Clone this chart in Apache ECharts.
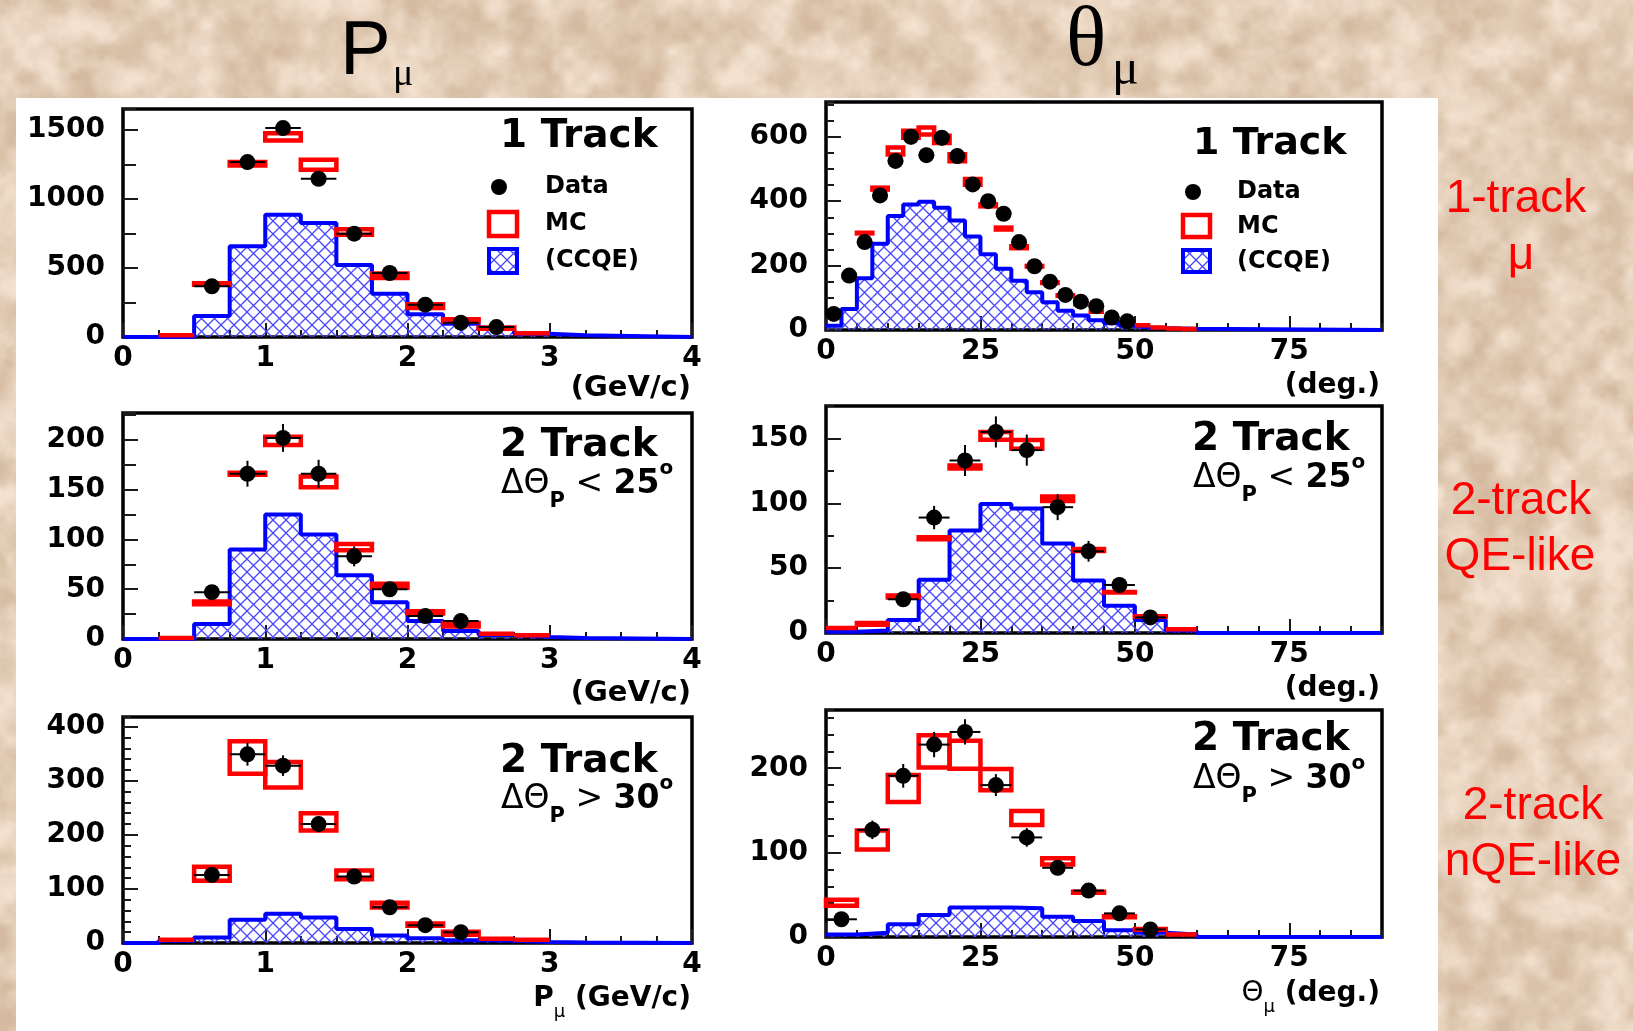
<!DOCTYPE html>
<html>
<head>
<meta charset="utf-8">
<script src="https://cdn.jsdelivr.net/npm/echarts@6/dist/echarts.min.js"></script>
<style>
  html, body { margin: 0; padding: 0; }
  #stage { position: relative; width: 1633px; height: 1031px; overflow: hidden; }
  #stone { position: absolute; left: 0; top: 0; width: 1633px; height: 1031px; }
  #sheet { position: absolute; left: 16px; top: 98px; width: 1422px; height: 933px; background: #fff; }
  #chart { position: absolute; left: 0; top: 0; width: 1633px; height: 1031px; }
</style>
</head>
<body>
<div id="stage">
  <canvas id="stone" width="817" height="516"></canvas>
  <div id="sheet"></div>
  <div id="chart"></div>
</div>
<script>
// ---------------- bin widths ----------------
const pBin = 0.25;    // muon momentum bins, GeV/c
const thBin1 = 2.5;   // muon angle bins, 1-track sample (deg)
const thBin2 = 5;     // muon angle bins, 2-track samples (deg)

// ---------------- P_mu, 1 track ----------------
const pOneCCQE    = [0, 0, 152, 656, 885, 825, 521, 313, 164, 96, 58, 24, 12];
const pOneMC      = [null, 12, 384, 1254, 1448, 1246, 760, 443, 223, 121, 64, 28];
const pOneMCErr   = [0, 0, 5, 13, 26, 36, 20, 16, 14, 8, 4, 0];
const pOneData    = [null, null, 367, 1266, 1512, 1145, 748, 463, 234, 104, 72];
const pOneDataErr = [0, 0, 19, 36, 39, 34, 27, 22, 15, 10, 8];

// ---------------- P_mu, 2 track, dTheta_p < 25 ----------------
const pQECCQE    = [0, 0, 15, 90, 125, 105, 64, 37, 18, 8, 4, 2, 1];
const pQEMC      = [null, 1, 36.3, 166, 199, 157.7, 92.3, 53.5, 26.7, 14.3, 5.3, 3.8];
const pQEMCErr   = [0, 0, 1.4, 1.1, 4.1, 5.4, 3.1, 1.9, 1.1, 1.8, 0, 0];
const pQEData    = [null, null, 47, 166, 202, 166, 83, 50, 23, 18];
const pQEDataErr = [0, 0, 7, 13, 14, 14, 10, 7, 5, 4];

// ---------------- P_mu, 2 track, dTheta_p > 30 ----------------
const pNQECCQE    = [0, 4, 10, 43, 54, 47, 26, 14, 9, 5, 4, 2, 1];
const pNQEMC      = [null, 6, 128, 343, 311, 224, 126, 70, 34, 18, 8, 6];
const pNQEMCErr   = [0, 0, 12.8, 30, 23.6, 15.9, 8.2, 4.5, 2, 2.6, 0, 0];
const pNQEData    = [null, null, 126, 349, 328, 220, 123, 66, 33, 20];
const pNQEDataErr = [0, 0, 11, 21, 19, 15, 11, 8, 6, 4];

// ---------------- Theta_mu, 1 track ----------------
const thOneCCQE    = [13, 65, 161, 268, 354, 390, 398, 380, 340, 290, 235, 190, 153, 117, 86, 60, 45, 30, 21, 13, 8, 6, 5, 4];
const thOneMC      = [50, 165, 301, 439, 556, 608, 618, 592, 535, 460, 387, 315, 257, 198, 147, 107, 80, 57, 37, 25, 15, 8, 5, 3];
const thOneMCErr   = [0, 0, 1, 3, 11, 11, 11, 11, 11, 9, 3, 3, 3, 1, 1, 1, 0, 0, 0, 0, 0, 0, 0, 0];
const thOneData    = [50, 169, 273, 418, 525, 600, 543, 597, 540, 452, 400, 361, 273, 198, 150, 109, 88, 74, 39, 27];
const thOneDataErr = [7, 13, 17, 20, 23, 24, 23, 24, 23, 21, 20, 19, 17, 14, 12, 10, 9, 9, 6, 5];

// ---------------- Theta_mu, 2 track, dTheta_p < 25 ----------------
const thQECCQE    = [1, 2, 10, 41, 79, 99.5, 96, 69, 40.5, 21, 10, 2];
const thQEMC      = [3.8, 7, 28.2, 73, 128, 152, 145.4, 103.5, 64, 31.4, 12.7, 2.8];
const thQEMCErr   = [0, 0.7, 0.8, 0.8, 1.1, 3, 3.4, 1.7, 0.8, 0.2, 0.2, 0];
const thQEData    = [null, null, 26, 89, 133, 155, 141, 97, 63, 37, 12];
const thQEDataErr = [0, 0, 5, 9, 12, 12, 12, 10, 8, 6, 3.5];

// ---------------- Theta_mu, 2 track, dTheta_p > 30 ----------------
const thNQECCQE    = [3, 5, 15, 26, 35, 35, 34, 24, 19, 8, 5, 3];
const thNQEMC      = [40.6, 115, 176, 220, 216, 186.5, 141, 89.5, 53, 24, 9, 3];
const thNQEMCErr   = [3.5, 11.2, 15.9, 19, 16.7, 12.7, 8.2, 3.7, 0.7, 0.5, 0.5, 0];
const thNQEData    = [21, 127, 191, 228, 243, 180, 118, 82, 55, 28, 9];
const thNQEDataErr = [5, 11, 14, 15, 15, 13, 11, 9, 7, 5, 3];

// ---------------- marbled backdrop ----------------
function hash2(ix, iy) {
  let h = (Math.imul(ix, 374761393) + Math.imul(iy, 668265263)) | 0;
  h = Math.imul(h ^ (h >>> 13), 1274126177);
  h ^= h >>> 16;
  return (h >>> 0) / 4294967296;
}
function vnoise(x, y) {
  const ix = Math.floor(x), iy = Math.floor(y);
  const fx = x - ix, fy = y - iy;
  const sx = fx * fx * (3 - 2 * fx), sy = fy * fy * (3 - 2 * fy);
  const a = hash2(ix, iy), b = hash2(ix + 1, iy), c = hash2(ix, iy + 1), d = hash2(ix + 1, iy + 1);
  return a + (b - a) * sx + (c - a) * sy + (a - b - c + d) * sx * sy;
}
(function paintStone() {
  const cv = document.getElementById('stone');
  const W = cv.width, H = cv.height, ctx = cv.getContext('2d');
  const img = ctx.createImageData(W, H);
  const dark = [212, 186, 160], light = [243, 226, 208];
  for (let y = 0; y < H; y++) {
    for (let x = 0; x < W; x++) {
      let n = 0, amp = 0.5, f = 1 / 13;
      for (let o = 0; o < 5; o++) {
        n += amp * vnoise(x * f + o * 17.3, y * f + o * 9.1);
        amp *= 0.5; f *= 2;
      }
      n /= 0.96875;
      let t = Math.min(1, Math.max(0, (n - 0.22) * 1.8));
      const k = (y * W + x) * 4;
      img.data[k]     = dark[0] + (light[0] - dark[0]) * t;
      img.data[k + 1] = dark[1] + (light[1] - dark[1]) * t;
      img.data[k + 2] = dark[2] + (light[2] - dark[2]) * t;
      img.data[k + 3] = 255;
    }
  }
  ctx.putImageData(img, 0, 0);
})();

// ---------------- cross-hatch for the CCQE component ----------------
const hatchTile = (function () {
  const s = 13, c = document.createElement('canvas');
  c.width = s; c.height = s;
  const g = c.getContext('2d');
  g.strokeStyle = '#4646ff';
  g.lineWidth = 1.3;
  g.beginPath();
  g.moveTo(-1, -1); g.lineTo(s + 1, s + 1);
  g.moveTo(-1, s + 1); g.lineTo(s + 1, -1);
  g.stroke();
  return c;
})();
const hatchFill = { image: hatchTile, repeat: 'repeat' };

// ---------------- panel layout ----------------
const panels = [
  { box: [123, 109, 569, 228], x: [4, 1, 0.25], y: [1650, 500, 250], minorLen: 13, bin: pBin,
    ccqe: pOneCCQE, mc: pOneMC, mcErr: pOneMCErr, data: pOneData, dataErr: pOneDataErr },
  { box: [826, 102, 556, 228], x: [90, 25, 5], y: [708, 200, 50], minorLen: 8, bin: thBin1,
    ccqe: thOneCCQE, mc: thOneMC, mcErr: thOneMCErr, data: thOneData, dataErr: thOneDataErr },
  { box: [123, 413, 569, 226], x: [4, 1, 0.25], y: [227, 50, 25], minorLen: 13, bin: pBin,
    ccqe: pQECCQE, mc: pQEMC, mcErr: pQEMCErr, data: pQEData, dataErr: pQEDataErr },
  { box: [826, 406, 556, 227], x: [90, 25, 5], y: [175, 50, 25], minorLen: 8, bin: thBin2,
    ccqe: thQECCQE, mc: thQEMC, mcErr: thQEMCErr, data: thQEData, dataErr: thQEDataErr },
  { box: [123, 717, 569, 226], x: [4, 1, 0.25], y: [418, 100, 20], minorLen: 8, bin: pBin,
    ccqe: pNQECCQE, mc: pNQEMC, mcErr: pNQEMCErr, data: pNQEData, dataErr: pNQEDataErr },
  { box: [826, 710, 556, 227], x: [90, 25, 5], y: [269, 100, 20], minorLen: 8, bin: thBin2,
    ccqe: thNQECCQE, mc: thNQEMC, mcErr: thNQEMCErr, data: thNQEData, dataErr: thNQEDataErr }
];

const FONT = '"DejaVu Sans", "Liberation Sans", sans-serif';
const tickLine = { color: '#1a1a1a', width: 2 };

function binItems(values, width, errs) {
  const out = [];
  values.forEach(function (v, k) {
    if (v == null) return;
    out.push([k * width, (k + 1) * width, v, errs ? (errs[k] || 0) : 0]);
  });
  return out;
}
function stepPoints(values, width, xMax) {
  const pts = values.map(function (v, k) { return [k * width, v]; });
  pts.push([values.length * width, 0]);
  pts.push([xMax, 0]);
  return pts;
}

function renderFill(params, api) {
  const a = api.coord([api.value(0), api.value(2)]);
  const b = api.coord([api.value(1), 0]);
  return { type: 'rect', shape: { x: a[0], y: a[1], width: b[0] - a[0], height: b[1] - a[1] },
           style: { fill: hatchFill, stroke: null } };
}
function renderBox(params, api) {
  const c = api.value(2), e = api.value(3);
  const a = api.coord([api.value(0), c + e]);
  const b = api.coord([api.value(1), c - e]);
  return { type: 'rect', shape: { x: a[0], y: a[1], width: b[0] - a[0], height: b[1] - a[1] },
           style: { fill: 'none', stroke: '#ff0000', lineWidth: 4.5 } };
}
function renderErr(params, api) {
  const lo = api.value(0), hi = api.value(1), v = api.value(2), e = api.value(3);
  const mid = (lo + hi) / 2;
  const l = api.coord([lo, v]), r = api.coord([hi, v]);
  const t = api.coord([mid, v + e]), d = api.coord([mid, v - e]);
  return { type: 'group', children: [
    { type: 'line', shape: { x1: l[0], y1: l[1], x2: r[0], y2: r[1] }, style: { stroke: '#000', lineWidth: 2 } },
    { type: 'line', shape: { x1: t[0], y1: t[1], x2: d[0], y2: d[1] }, style: { stroke: '#000', lineWidth: 2 } }
  ] };
}

const grids = [], xAxes = [], yAxes = [], series = [];
panels.forEach(function (p, i) {
  grids.push({ left: p.box[0], top: p.box[1], width: p.box[2], height: p.box[3],
               show: true, backgroundColor: '#ffffff', borderColor: '#000', borderWidth: 3.5,
               containLabel: false, outerBoundsMode: 'none' });
  const xMain = {
    type: 'value', gridIndex: i, position: 'bottom', min: 0, max: p.x[0], interval: p.x[1],
    axisLine: { show: false }, splitLine: { show: false },
    axisTick: { show: true, inside: true, length: 14, lineStyle: tickLine },
    axisLabel: { show: true, margin: 8, color: '#000', fontFamily: FONT, fontWeight: 'bold', fontSize: 28,
                 showMinLabel: true, showMaxLabel: p.x[0] === 4, formatter: function (v) { return String(v); } }
  };
  const xMinor = {
    type: 'value', gridIndex: i, position: 'bottom', min: 0, max: p.x[0], interval: p.x[2],
    axisLine: { show: false }, splitLine: { show: false }, axisLabel: { show: false },
    axisTick: { show: true, inside: true, length: 7, lineStyle: tickLine }
  };
  const yMain = {
    type: 'value', gridIndex: i, position: 'left', min: 0, max: p.y[0], interval: p.y[1],
    axisLine: { show: false }, splitLine: { show: false },
    axisTick: { show: true, inside: true, length: 15, lineStyle: tickLine },
    axisLabel: { show: true, margin: 18, color: '#000', fontFamily: FONT, fontWeight: 'bold', fontSize: 28,
                 showMaxLabel: false, formatter: function (v) { return String(v); } }
  };
  const yMinor = {
    type: 'value', gridIndex: i, position: 'left', offset: 0, min: 0, max: p.y[0], interval: p.y[2],
    axisLine: { show: false }, splitLine: { show: false }, axisLabel: { show: false },
    axisTick: { show: true, inside: true, length: p.minorLen, lineStyle: tickLine }
  };
  xAxes.push(xMain, xMinor);
  yAxes.push(yMain, yMinor);
  const xi = 2 * i, yi = 2 * i;

  series.push({
    type: 'custom', name: 'CCQE', xAxisIndex: xi, yAxisIndex: yi, z: 2,
    renderItem: renderFill, encode: { x: [0, 1], y: 2 },
    data: binItems(p.ccqe, p.bin).filter(function (d) { return d[2] > 0; })
  });
  series.push({
    type: 'line', name: 'CCQE outline', xAxisIndex: xi, yAxisIndex: yi, z: 3,
    step: 'end', symbol: 'none', clip: false,
    lineStyle: { color: '#0000ff', width: 4, opacity: 1 },
    data: stepPoints(p.ccqe, p.bin, p.x[0])
  });
  series.push({
    type: 'custom', name: 'MC', xAxisIndex: xi, yAxisIndex: yi, z: 4,
    renderItem: renderBox, encode: { x: [0, 1], y: 2 },
    data: binItems(p.mc, p.bin, p.mcErr)
  });
  series.push({
    type: 'custom', name: 'Data errors', xAxisIndex: xi, yAxisIndex: yi, z: 5,
    renderItem: renderErr, encode: { x: [0, 1], y: 2 },
    data: binItems(p.data, p.bin, p.dataErr)
  });
  series.push({
    type: 'scatter', name: 'Data', xAxisIndex: xi, yAxisIndex: yi, z: 6,
    symbol: 'circle', symbolSize: 16, itemStyle: { color: '#000', opacity: 1 },
    data: binItems(p.data, p.bin).map(function (d) { return [(d[0] + d[1]) / 2, d[2]]; })
  });
});

// ---------------- text and legend decorations ----------------
function txt(x, y, text, style) {
  const s = Object.assign({ text: text, fill: '#000', align: 'left', verticalAlign: 'middle' }, style);
  s.textAlign = s.align; s.textVerticalAlign = s.verticalAlign;
  return { type: 'text', x: x, y: y, z: 20, silent: true, style: s };
}
const bold = function (size) { return 'bold ' + size + 'px ' + FONT; };
const redFont = '46px "Liberation Sans", Arial, sans-serif';

const deltaRich = {
  g: { fontFamily: FONT, fontSize: 33, fontWeight: 'normal', lineHeight: 56, fill: '#000', color: '#000', verticalAlign: 'middle' },
  s: { fontFamily: FONT, fontSize: 21, fontWeight: 'bold', fill: '#000', color: '#000', verticalAlign: 'bottom' },
  b: { fontFamily: FONT, fontSize: 33, fontWeight: 'bold', lineHeight: 56, fill: '#000', color: '#000', verticalAlign: 'middle' },
  o: { fontFamily: FONT, fontSize: 20, fontWeight: 'bold', fill: '#000', color: '#000', verticalAlign: 'top', padding: [3, 0, 0, 0] }
};
const nameRich = {
  b: { fontFamily: FONT, fontSize: 28, fontWeight: 'bold', lineHeight: 44, fill: '#000', color: '#000', verticalAlign: 'middle' },
  g: { fontFamily: FONT, fontSize: 28, fontWeight: 'normal', lineHeight: 44, fill: '#000', color: '#000', verticalAlign: 'middle' },
  m: { fontFamily: FONT, fontSize: 18, fontWeight: 'normal', fill: '#000', color: '#000', verticalAlign: 'bottom' }
};

const graphics = [
  // column headings
  txt(340, 53, 'P', { font: '76px "Liberation Sans", Arial, sans-serif' }),
  txt(393, 75, 'μ', { font: '38px "Liberation Serif", serif' }),
  txt(1066, 43, 'θ', { font: '84px "Liberation Serif", serif' }),
  txt(1112, 71, 'μ', { font: '50px "Liberation Serif", serif' }),

  // sample labels
  txt(1516, 199, '1-track', { font: redFont, fill: '#ff0000', align: 'center' }),
  txt(1521, 256, 'μ', { font: redFont, fill: '#ff0000', align: 'center' }),
  txt(1521, 501, '2-track', { font: redFont, fill: '#ff0000', align: 'center' }),
  txt(1520, 557, 'QE-like', { font: redFont, fill: '#ff0000', align: 'center' }),
  txt(1533, 806, '2-track', { font: redFont, fill: '#ff0000', align: 'center' }),
  txt(1533, 862, 'nQE-like', { font: redFont, fill: '#ff0000', align: 'center' }),

  // panel captions
  txt(500, 137, '1 Track', { font: bold(39) }),
  txt(1193, 144, '1 Track', { font: bold(38) }),
  txt(500, 446, '2 Track', { font: bold(39) }),
  txt(501, 484, '{g|ΔΘ}{s|P}{g| < }{b|25}{o|o}', { rich: deltaRich }),
  txt(1192, 440, '2 Track', { font: bold(39) }),
  txt(1193, 478, '{g|ΔΘ}{s|P}{g| < }{b|25}{o|o}', { rich: deltaRich }),
  txt(500, 762, '2 Track', { font: bold(39) }),
  txt(501, 799, '{g|ΔΘ}{s|P}{g| > }{b|30}{o|o}', { rich: deltaRich }),
  txt(1192, 740, '2 Track', { font: bold(39) }),
  txt(1193, 779, '{g|ΔΘ}{s|P}{g| > }{b|30}{o|o}', { rich: deltaRich }),

  // axis titles
  txt(691, 388, '(GeV/c)', { font: bold(29), align: 'right' }),
  txt(1380, 386, '(deg.)', { font: bold(28), align: 'right' }),
  txt(691, 693, '(GeV/c)', { font: bold(29), align: 'right' }),
  txt(1380, 689, '(deg.)', { font: bold(28), align: 'right' }),
  txt(691, 999, '{b|P}{m|μ}{b| (GeV/c)}', { rich: nameRich, align: 'right' }),
  txt(1380, 994, '{g|Θ}{m|μ}{b| (deg.)}', { rich: nameRich, align: 'right' }),

  // legend, momentum panel
  { type: 'circle', z: 20, silent: true, shape: { cx: 499, cy: 187, r: 8 }, style: { fill: '#000' } },
  { type: 'rect', z: 20, silent: true, shape: { x: 489, y: 212, width: 28, height: 24 }, style: { fill: '#fff', stroke: '#ff0000', lineWidth: 4.5 } },
  { type: 'rect', z: 20, silent: true, shape: { x: 489, y: 249, width: 28, height: 24 }, style: { fill: hatchFill, stroke: '#0000ff', lineWidth: 4 } },
  txt(545, 187, 'Data', { font: bold(24) }),
  txt(545, 224, 'MC', { font: bold(24) }),
  txt(545, 261, '(CCQE)', { font: bold(24) }),

  // legend, angle panel
  { type: 'circle', z: 20, silent: true, shape: { cx: 1193, cy: 192, r: 8 }, style: { fill: '#000' } },
  { type: 'rect', z: 20, silent: true, shape: { x: 1183, y: 215, width: 27, height: 22 }, style: { fill: '#fff', stroke: '#ff0000', lineWidth: 4.5 } },
  { type: 'rect', z: 20, silent: true, shape: { x: 1183, y: 250, width: 27, height: 22 }, style: { fill: hatchFill, stroke: '#0000ff', lineWidth: 4 } },
  txt(1237, 192, 'Data', { font: bold(24) }),
  txt(1237, 227, 'MC', { font: bold(24) }),
  txt(1237, 262, '(CCQE)', { font: bold(24) })
];

const chart = echarts.init(document.getElementById('chart'), null, { renderer: 'canvas' });
chart.setOption({
  animation: false,
  backgroundColor: 'transparent',
  grid: grids,
  xAxis: xAxes,
  yAxis: yAxes,
  series: series,
  graphic: graphics
});
</script>
</body>
</html>
